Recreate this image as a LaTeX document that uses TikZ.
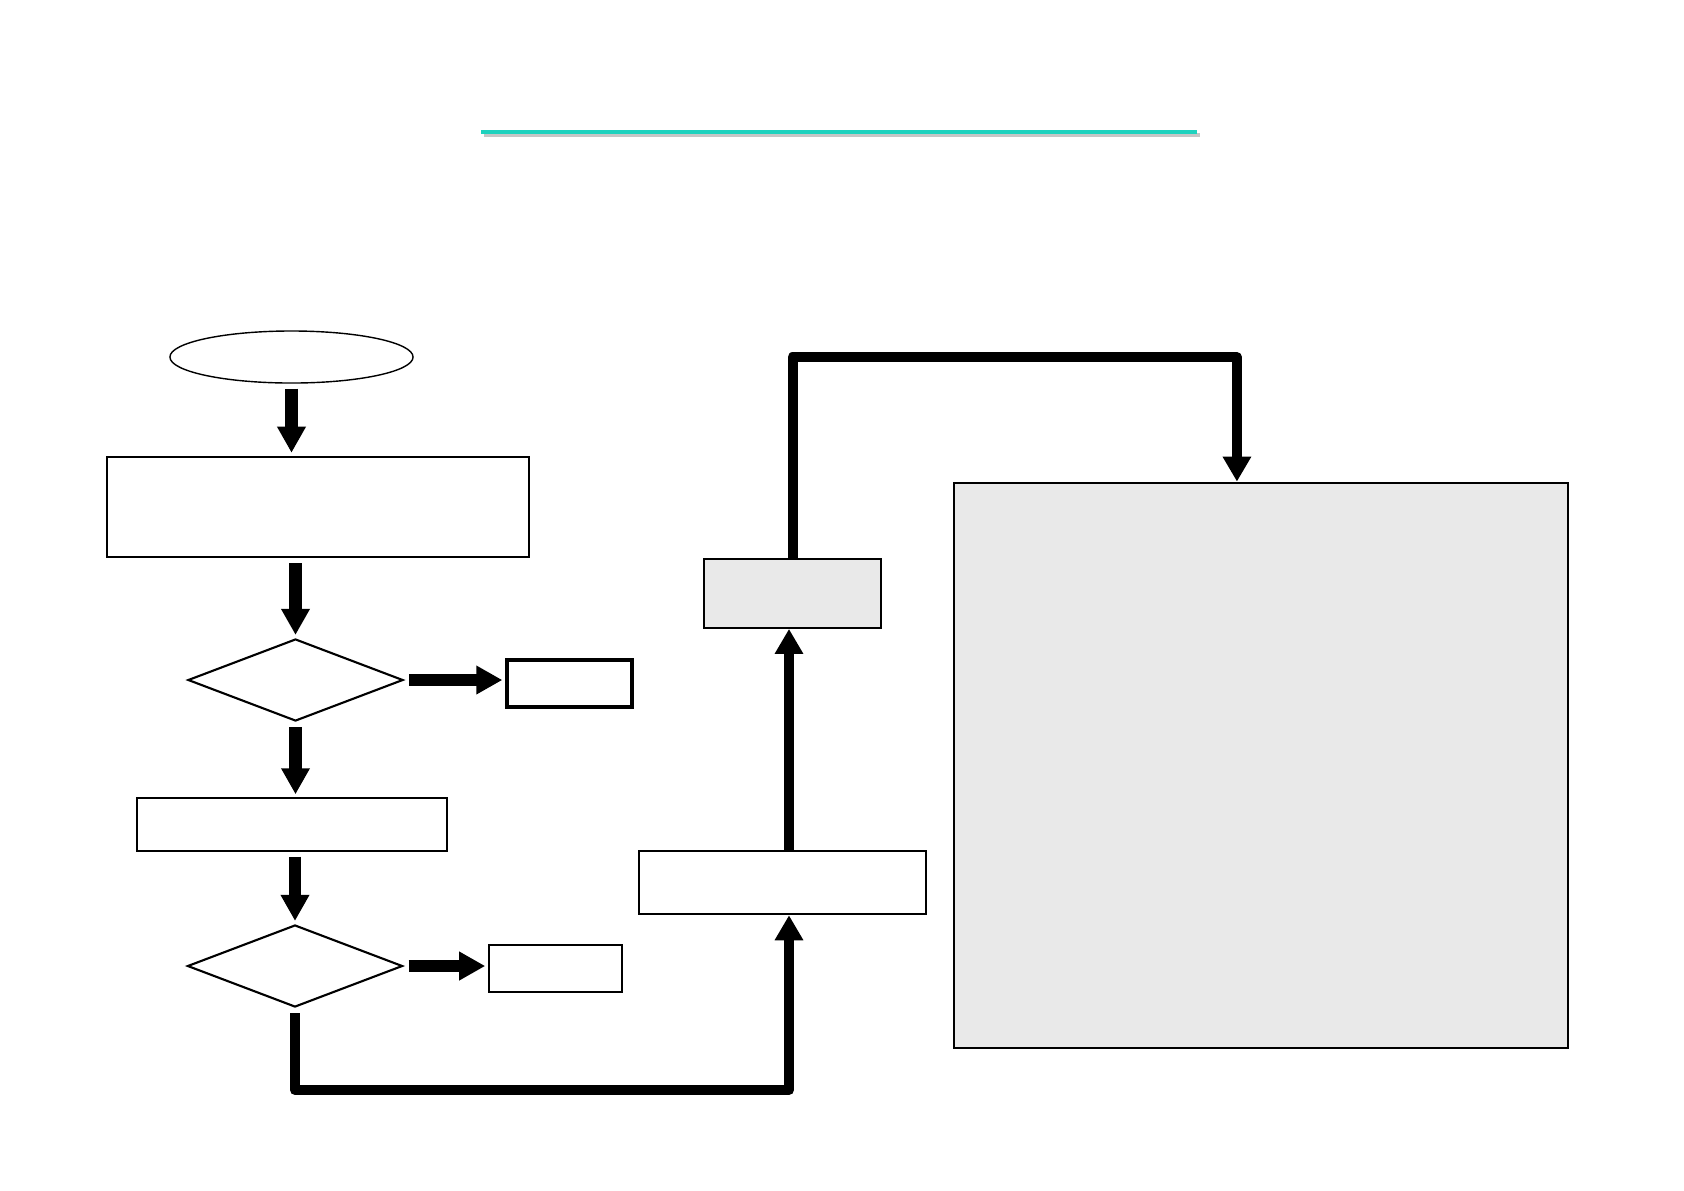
\documentclass[tikz,border=0pt]{standalone}
\usepackage{xcolor}
\usepackage{tikz}
\usetikzlibrary{shapes.geometric, arrows.meta, positioning, calc}

\definecolor{rulecyan}{RGB}{30,210,190}
\definecolor{panelgray}{RGB}{233,233,233}

\begin{document}
\begin{tikzpicture}[
    x=0.01cm, y=-0.01cm,
    terminal/.style={ellipse, draw, line width=0.4pt, inner sep=0pt,
                     minimum width=2.43cm, minimum height=0.52cm},
    proc/.style={rectangle, draw, line width=#1, inner sep=0pt},
    proc/.default=0.4pt,
    decision/.style={diamond, draw, line width=0.6pt, inner sep=0pt,
                     minimum width=2.15cm, minimum height=0.82cm},
    arr/.style={-{Triangle[width=0.27cm, length=0.26cm]}, line width=0.12cm,
                shorten <=0.05cm, shorten >=0.03cm},
    link/.style={-{Triangle[width=0.27cm, length=0.25cm]}, line width=0.1cm,
                 line join=round},
]
    \useasboundingbox (0,0) rectangle (1684,1190);

    % Title rule
    \coordinate (ruleL) at (481,132);
    \coordinate (ruleR) at (1197,132);
    \draw[line width=0.04cm, gray!45] ($(ruleL)+(3,3)$) -- ($(ruleR)+(3,3)$);
    \draw[line width=0.04cm, rulecyan] (ruleL) -- (ruleR);

    % Left column
    \node[terminal] (start) at (291.5,357) {};
    \node[proc=0.7pt, minimum width=4.22cm, minimum height=1.0cm] (setup) at (318,507) {};
    \node[decision] (check1) at (295.5,680) {};
    \node[proc=0.9pt, minimum width=1.25cm, minimum height=0.47cm] (exit1) at (569.5,683.5) {};
    \node[proc, minimum width=3.1cm, minimum height=0.53cm] (step2) at (292,824.5) {};
    \node[decision] (check2) at (295,966) {};
    \node[proc, minimum width=1.33cm, minimum height=0.47cm] (exit2) at (555.5,968.5) {};

    % Middle and right
    \node[proc=0.7pt, minimum width=2.87cm, minimum height=0.63cm] (step3) at (782.5,882.5) {};
    \node[proc=0.5pt, fill=panelgray, minimum width=1.77cm, minimum height=0.69cm] (step4) at (792.5,593.5) {};
    \node[proc=0.7pt, fill=panelgray, minimum width=6.14cm, minimum height=5.65cm] (panel) at (1261,765.5) {};

    % Arrows
    \draw[arr] (start.south) -- (start.south |- setup.north);
    \draw[arr] (check1.north |- setup.south) -- (check1.north);
    \draw[arr] (check1.south) -- (check1.south |- step2.north);
    \draw[arr] (check2.north |- step2.south) -- (check2.north);
    \draw[arr] (check1.east) -- (check1.east -| exit1.west);
    \draw[arr] (check2.east) -- (check2.east -| exit2.west);

    % Loop connectors
    \coordinate (in3) at ($(step3.south)+(6.5,0)$);
    \coordinate (up3) at ($(step3.north)+(6.5,0)$);
    \coordinate (in5) at ($(panel.north west)!0.461!(panel.north east)$);
    \draw[link, shorten <=0.05cm] (check2.south) -- ++(0,82) -| (in3);
    \draw[link] (up3) -- (up3 |- step4.south);
    \draw[link] (step4.north) -- ++(0,-201) -| (in5);

\end{tikzpicture}
\end{document}
